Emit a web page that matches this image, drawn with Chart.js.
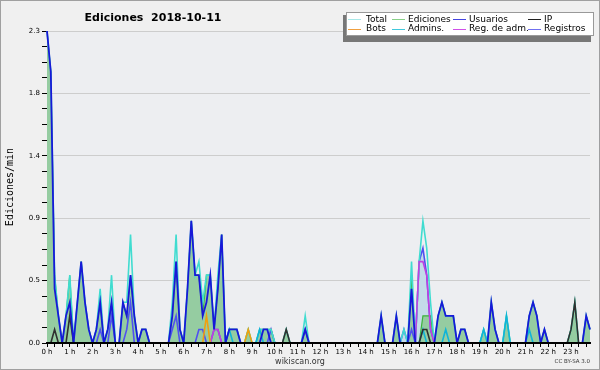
<!DOCTYPE html>
<html>
<head>
<meta charset="utf-8">
<script src="https://cdn.jsdelivr.net/npm/chart.js@4.4.0/dist/chart.umd.min.js"></script>
<style>
  html, body { margin: 0; padding: 0; background: #f0f0f0; }
  canvas { display: block; }
</style>
</head>
<body>
<canvas id="chart" width="600" height="370"></canvas>
<script>
const chartTitle = 'Ediciones  2018-10-11';
const yTitle = 'Ediciones/min';

// 10 minute slots, 00:00 .. 23:50
const slots = [];
for (let h = 0; h < 24; h++) {
    for (let m = 0; m < 60; m += 10) {
        slots.push(String(h).padStart(2, '0') + ':' + String(m).padStart(2, '0'));
    }
}

const hourLabels = ['0 h', '1 h', '2 h', '3 h', '4 h', '5 h', '6 h', '7 h', '8 h', '9 h', '10 h', '11 h',
    '12 h', '13 h', '14 h', '15 h', '16 h', '17 h', '18 h', '19 h', '20 h', '21 h', '22 h', '23 h'];
const yLabels = ['0.0', '0.5', '0.9', '1.4', '1.8', '2.3'];

// edits per minute, one row = 2 hours
const total = [
    2.3, 2.0, 0.5, 0.2, 0, 0.2, 0.5, 0, 0.3, 0.6, 0.3, 0.1,
    0, 0.1, 0.4, 0, 0.1, 0.5, 0, 0, 0.3, 0.3, 0.8, 0.2,
    0, 0.1, 0.1, 0, 0, 0, 0, 0, 0, 0.3, 0.8, 0.1,
    0, 0.4, 0.9, 0.5, 0.6, 0.3, 0.5, 0.5, 0.1, 0.5, 0.8, 0,
    0.1, 0.1, 0.1, 0, 0, 0.1, 0, 0, 0.1, 0.1, 0.1, 0.1,
    0, 0, 0, 0.1, 0, 0, 0, 0, 0.2, 0, 0, 0,
    0, 0, 0, 0, 0, 0, 0, 0, 0, 0, 0, 0,
    0, 0, 0, 0, 0.2, 0, 0, 0, 0.2, 0, 0.1, 0,
    0.6, 0, 0.6, 0.9, 0.7, 0.3, 0, 0.2, 0.3, 0.2, 0.2, 0.2,
    0, 0.1, 0.1, 0, 0, 0, 0, 0.1, 0, 0.3, 0.1, 0,
    0, 0.2, 0, 0, 0, 0, 0, 0.2, 0.3, 0.2, 0, 0.1,
    0, 0, 0, 0, 0, 0, 0.1, 0.3, 0, 0, 0.2, 0.1
];
const ediciones = [
    2.3, 2.0, 0.5, 0.2, 0, 0.2, 0.5, 0, 0.3, 0.6, 0.3, 0.1,
    0, 0.1, 0.3, 0, 0.1, 0.3, 0, 0, 0.3, 0.2, 0.5, 0.2,
    0, 0.1, 0.1, 0, 0, 0, 0, 0, 0, 0.2, 0.6, 0.1,
    0, 0.4, 0.9, 0.5, 0.5, 0.2, 0.5, 0.5, 0.1, 0.4, 0.8, 0,
    0.1, 0.1, 0.1, 0, 0, 0.1, 0, 0, 0.1, 0.1, 0.1, 0.1,
    0, 0, 0, 0.1, 0, 0, 0, 0, 0.1, 0, 0, 0,
    0, 0, 0, 0, 0, 0, 0, 0, 0, 0, 0, 0,
    0, 0, 0, 0, 0.2, 0, 0, 0, 0.2, 0, 0, 0,
    0.5, 0, 0, 0.2, 0.2, 0.2, 0, 0.2, 0.3, 0.2, 0.2, 0.2,
    0, 0.1, 0.1, 0, 0, 0, 0, 0.1, 0, 0.3, 0.1, 0,
    0, 0.2, 0, 0, 0, 0, 0, 0.2, 0.3, 0.2, 0, 0.1,
    0, 0, 0, 0, 0, 0, 0.1, 0.3, 0, 0, 0.2, 0.1
];
const usuarios = [
    2.3, 2.0, 0.4, 0.2, 0, 0.2, 0.3, 0, 0.3, 0.6, 0.3, 0.1,
    0, 0.1, 0.3, 0, 0.1, 0.3, 0, 0, 0.3, 0.2, 0.5, 0.2,
    0, 0.1, 0.1, 0, 0, 0, 0, 0, 0, 0.2, 0.6, 0.1,
    0, 0.4, 0.9, 0.5, 0.5, 0.2, 0.3, 0.5, 0.1, 0.4, 0.8, 0,
    0.1, 0.1, 0.1, 0, 0, 0, 0, 0, 0, 0.1, 0.1, 0,
    0, 0, 0, 0, 0, 0, 0, 0, 0.1, 0, 0, 0,
    0, 0, 0, 0, 0, 0, 0, 0, 0, 0, 0, 0,
    0, 0, 0, 0, 0.2, 0, 0, 0, 0.2, 0, 0, 0,
    0.4, 0, 0, 0, 0, 0, 0, 0.2, 0.3, 0.2, 0.2, 0.2,
    0, 0.1, 0.1, 0, 0, 0, 0, 0, 0, 0.3, 0.1, 0,
    0, 0, 0, 0, 0, 0, 0, 0.2, 0.3, 0.2, 0, 0.1,
    0, 0, 0, 0, 0, 0, 0, 0, 0, 0, 0.2, 0.1
];
const ip = [
    0, 0, 0.1, 0, 0, 0, 0.2, 0, 0, 0, 0, 0,
    0, 0, 0, 0, 0, 0, 0, 0, 0, 0, 0, 0,
    0, 0, 0, 0, 0, 0, 0, 0, 0, 0, 0, 0,
    0, 0, 0, 0, 0, 0, 0, 0, 0, 0, 0, 0,
    0, 0, 0, 0, 0, 0, 0, 0, 0, 0, 0, 0,
    0, 0, 0, 0.1, 0, 0, 0, 0, 0, 0, 0, 0,
    0, 0, 0, 0, 0, 0, 0, 0, 0, 0, 0, 0,
    0, 0, 0, 0, 0, 0, 0, 0, 0, 0, 0, 0,
    0, 0, 0, 0.1, 0.1, 0, 0, 0, 0, 0, 0, 0,
    0, 0, 0, 0, 0, 0, 0, 0, 0, 0, 0, 0,
    0, 0, 0, 0, 0, 0, 0, 0, 0, 0, 0, 0,
    0, 0, 0, 0, 0, 0, 0.1, 0.3, 0, 0, 0, 0
];
const bots = [
    0, 0, 0, 0, 0, 0, 0, 0, 0, 0, 0, 0,
    0, 0, 0, 0, 0, 0, 0, 0, 0, 0, 0, 0,
    0, 0, 0, 0, 0, 0, 0, 0, 0, 0, 0, 0,
    0, 0, 0, 0, 0, 0, 0.2, 0, 0, 0, 0, 0,
    0, 0, 0, 0, 0, 0.1, 0, 0, 0, 0, 0, 0,
    0, 0, 0, 0, 0, 0, 0, 0, 0, 0, 0, 0,
    0, 0, 0, 0, 0, 0, 0, 0, 0, 0, 0, 0,
    0, 0, 0, 0, 0, 0, 0, 0, 0, 0, 0, 0,
    0, 0, 0, 0, 0, 0, 0, 0, 0, 0, 0, 0,
    0, 0, 0, 0, 0, 0, 0, 0, 0, 0, 0, 0,
    0, 0, 0, 0, 0, 0, 0, 0, 0, 0, 0, 0,
    0, 0, 0, 0, 0, 0, 0, 0, 0, 0, 0, 0
];
const admins = [
    0, 0, 0, 0, 0, 0, 0, 0, 0, 0, 0, 0,
    0, 0, 0, 0, 0, 0, 0, 0, 0, 0, 0, 0,
    0, 0, 0, 0, 0, 0, 0, 0, 0, 0, 0, 0,
    0, 0, 0, 0, 0, 0, 0, 0, 0, 0, 0, 0,
    0.1, 0, 0, 0, 0, 0, 0, 0, 0.1, 0, 0, 0,
    0, 0, 0, 0, 0, 0, 0, 0, 0, 0, 0, 0,
    0, 0, 0, 0, 0, 0, 0, 0, 0, 0, 0, 0,
    0, 0, 0, 0, 0, 0, 0, 0, 0, 0, 0, 0,
    0, 0, 0, 0.1, 0, 0, 0, 0, 0, 0.1, 0, 0,
    0, 0, 0, 0, 0, 0, 0, 0.1, 0, 0, 0, 0,
    0, 0.2, 0, 0, 0, 0, 0, 0.1, 0, 0, 0, 0,
    0, 0, 0, 0, 0, 0, 0, 0, 0, 0, 0, 0
];
const regAdm = [
    0, 0, 0, 0, 0, 0, 0, 0, 0, 0, 0, 0,
    0, 0, 0, 0, 0, 0, 0, 0, 0, 0, 0, 0,
    0, 0, 0, 0, 0, 0, 0, 0, 0, 0, 0, 0,
    0, 0, 0, 0, 0, 0, 0, 0, 0.1, 0.1, 0, 0,
    0, 0, 0, 0, 0, 0, 0, 0, 0, 0, 0, 0,
    0, 0, 0, 0, 0, 0, 0, 0, 0, 0, 0, 0,
    0, 0, 0, 0, 0, 0, 0, 0, 0, 0, 0, 0,
    0, 0, 0, 0, 0, 0, 0, 0, 0, 0, 0, 0,
    0, 0, 0.6, 0.6, 0.5, 0.1, 0, 0, 0, 0, 0, 0,
    0, 0, 0, 0, 0, 0, 0, 0, 0, 0, 0, 0,
    0, 0, 0, 0, 0, 0, 0, 0, 0, 0, 0, 0,
    0, 0, 0, 0, 0, 0, 0, 0, 0, 0, 0, 0
];
const registros = [
    0, 0, 0, 0, 0, 0, 0, 0, 0, 0, 0, 0,
    0, 0, 0.1, 0, 0, 0.2, 0, 0, 0, 0.1, 0.3, 0,
    0, 0, 0, 0, 0, 0, 0, 0, 0, 0.1, 0.2, 0,
    0, 0, 0, 0, 0.1, 0.1, 0, 0, 0.1, 0.1, 0, 0,
    0, 0, 0, 0, 0, 0, 0, 0, 0, 0, 0, 0.1,
    0, 0, 0, 0, 0, 0, 0, 0, 0.1, 0, 0, 0,
    0, 0, 0, 0, 0, 0, 0, 0, 0, 0, 0, 0,
    0, 0, 0, 0, 0, 0, 0, 0, 0, 0, 0.1, 0,
    0.1, 0, 0.6, 0.7, 0.5, 0.1, 0, 0, 0, 0, 0, 0,
    0, 0, 0, 0, 0, 0, 0, 0, 0, 0, 0, 0,
    0, 0, 0, 0, 0, 0, 0, 0, 0, 0, 0, 0,
    0, 0, 0, 0, 0, 0, 0, 0, 0, 0, 0, 0
];

// legend grid: row 1 then row 2, 4 columns
const legendOrder = ['Total', 'Ediciones', 'Usuarios', 'IP', 'Bots', 'Admins.', 'Reg. de adm.', 'Registros'];
const legendSwatchX = [348, 392, 453, 528];
const legendTextX = [366, 408, 469, 544];
const legendRowY = [19.5, 29];

Chart.defaults.font.family = '"DejaVu Sans"';

const line = (label, data, color, legendColor, order, extra) => Object.assign({
    label: label,
    data: data,
    borderColor: color,
    legendColor: legendColor,
    borderWidth: 1.6,
    fill: false,
    order: order
}, extra || {});

const frame = {
    id: 'frame',
    beforeDraw(chart) {
        const { ctx, chartArea: a } = chart;
        ctx.save();
        ctx.fillStyle = '#f0f0f0';
        ctx.fillRect(0, 0, chart.width, chart.height);
        ctx.fillStyle = '#edeef1';
        ctx.fillRect(a.left, a.top, a.right - a.left, a.bottom - a.top);
        ctx.restore();
    },
    afterDraw(chart) {
        const { ctx, chartArea: a } = chart;
        ctx.save();
        ctx.strokeStyle = '#a0a0a0';
        ctx.lineWidth = 1;
        ctx.strokeRect(0.5, 0.5, chart.width - 1, chart.height - 1);

        // title
        ctx.fillStyle = '#000';
        ctx.font = 'bold 11px "DejaVu Sans"';
        ctx.textAlign = 'center';
        ctx.textBaseline = 'alphabetic';
        ctx.fillText(chartTitle, 153, 21);

        // y axis title
        ctx.save();
        ctx.translate(10, (a.top + a.bottom) / 2);
        ctx.rotate(-Math.PI / 2);
        ctx.font = '10px "DejaVu Sans Mono"';
        ctx.textBaseline = 'middle';
        ctx.fillText(yTitle, 0, 0);
        ctx.restore();

        // legend box with shadow
        ctx.fillStyle = '#777';
        ctx.fillRect(343, 15, 248, 27);
        ctx.fillStyle = '#fff';
        ctx.fillRect(346, 12, 248, 24);
        ctx.strokeStyle = '#999';
        ctx.strokeRect(346.5, 12.5, 247, 23);
        ctx.font = '9px "DejaVu Sans"';
        ctx.textAlign = 'left';
        ctx.textBaseline = 'middle';
        legendOrder.forEach((name, k) => {
            const ds = chart.data.datasets.find(d => d.label === name);
            const col = k % 4, row = Math.floor(k / 4);
            const y = legendRowY[row];
            ctx.strokeStyle = ds.legendColor;
            ctx.lineWidth = 1;
            ctx.beginPath();
            ctx.moveTo(legendSwatchX[col], Math.floor(y) + 0.5);
            ctx.lineTo(legendSwatchX[col] + 13, Math.floor(y) + 0.5);
            ctx.stroke();
            ctx.fillStyle = '#000';
            ctx.fillText(name, legendTextX[col], y);
        });

        // credits
        ctx.fillStyle = '#333';
        ctx.font = '8px "DejaVu Sans"';
        ctx.textAlign = 'center';
        ctx.fillText('wikiscan.org', 300, 361.5);
        ctx.font = '5.5px "DejaVu Sans"';
        ctx.textAlign = 'right';
        ctx.fillText('CC BY-SA 3.0', 590, 362);
        ctx.restore();
    }
};

new Chart(document.getElementById('chart'), {
    type: 'line',
    data: {
        labels: slots,
        datasets: [
            line('Usuarios', usuarios, '#1818d8', '#4444e0', 0, { borderWidth: 1.8 }),
            line('IP', ip, '#303030', '#202020', 1),
            line('Bots', bots, '#f0a010', '#f0a040', 2),
            line('Reg. de adm.', regAdm, '#c040e0', '#d050e8', 3),
            line('Admins.', admins, '#10b4d8', '#40c8dc', 4),
            line('Total', total, '#40dcd0', '#a8e8e8', 5),
            line('Ediciones', ediciones, '#3cb43c', '#88d088', 6, { fill: 'origin', backgroundColor: '#95cca1', borderWidth: 1.2 }),
            line('Registros', registros, '#5050f0', '#7070f0', 7, { fill: 'origin', backgroundColor: '#c4dbe9' })
        ]
    },
    options: {
        responsive: false,
        animation: false,
        layout: { padding: { top: 31, right: 10, left: 0, bottom: 0 } },
        elements: { point: { radius: 0 }, line: { tension: 0 } },
        plugins: {
            legend: { display: false },
            tooltip: { enabled: false },
            filler: { drawTime: 'beforeDatasetsDraw' }
        },
        scales: {
            x: {
                ticks: {
                    autoSkip: false,
                    maxRotation: 0,
                    minRotation: 0,
                    padding: 1,
                    color: '#000',
                    font: { size: 7 },
                    callback: (v, i) => i % 6 === 0 ? hourLabels[i / 6] : ''
                },
                grid: {
                    drawOnChartArea: false,
                    tickLength: 4,
                    tickColor: ctx => ctx.index % 2 === 0 ? '#000' : 'rgba(0,0,0,0)'
                },
                border: { color: '#000', width: 2, z: 1 },
                afterFit: s => { s.height = 27; }
            },
            y: {
                min: 0,
                max: 2.3,
                afterBuildTicks: s => {
                    s.ticks = Array.from({ length: 21 }, (_, k) => ({ value: 2.3 * k / 20 }));
                },
                ticks: {
                    color: '#000',
                    padding: 2,
                    font: { size: 7 },
                    callback: (v, i) => i % 4 === 0 ? yLabels[i / 4] : ''
                },
                grid: {
                    tickLength: 5,
                    color: ctx => ctx.index % 4 === 0 ? '#cdcdcd' : 'rgba(0,0,0,0)',
                    tickColor: '#000'
                },
                border: { color: '#000' },
                afterFit: s => { s.width = 47; }
            }
        }
    },
    plugins: [frame]
});
</script>
</body>
</html>
